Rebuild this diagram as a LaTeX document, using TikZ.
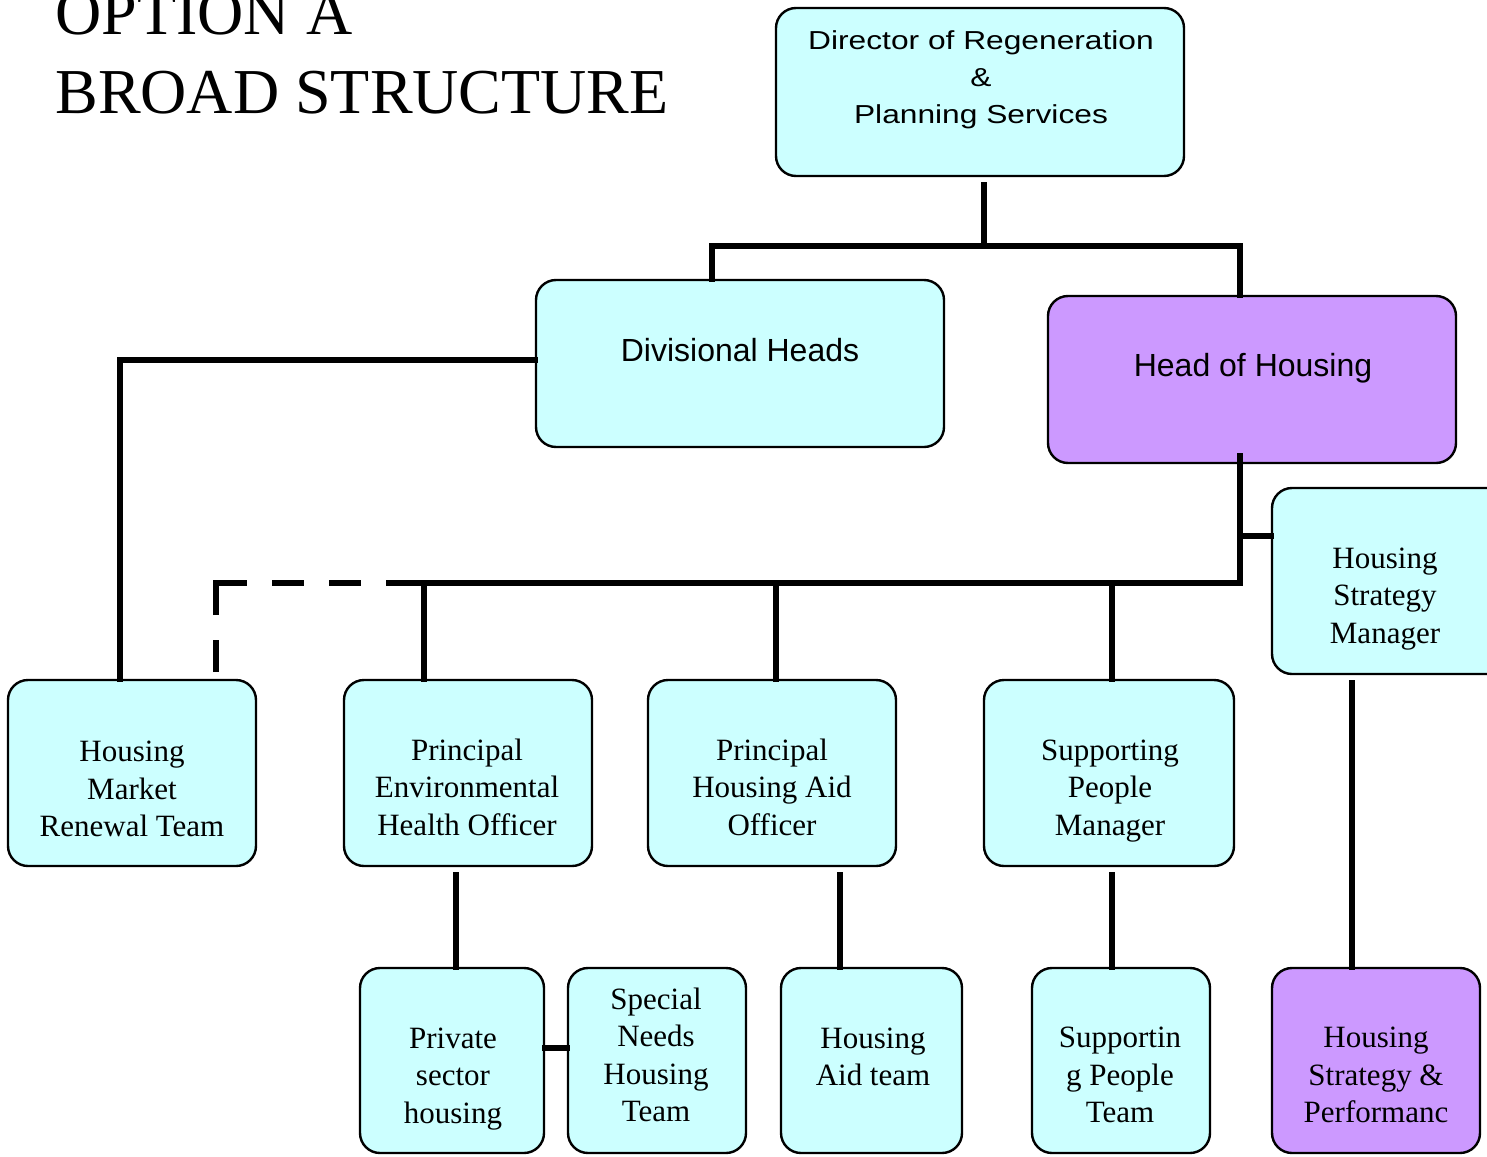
\documentclass[tikz,border=0pt]{standalone}
\usepackage{fontspec}
\setmainfont{Liberation Serif}
\newfontfamily\hsans{Liberation Sans}
\newfontfamily\wsans[FakeStretch=1.22]{Liberation Sans}
\usetikzlibrary{fit}
\definecolor{paleCyan}{HTML}{CCFFFF}
\definecolor{lilac}{HTML}{CC99FF}
\tikzset{
  box/.style={draw=black, line width=1.2pt, rounded corners=10pt, inner sep=0pt, fill=paleCyan},
  hbox/.style={box, fill=lilac},
  txt/.style={align=center, inner sep=0pt, font=\fontsize{15.5}{18.75}\selectfont},
  stxt/.style={align=center, inner sep=0pt, font=\hsans\fontsize{16}{18.5}\selectfont},
  link/.style={line width=3pt, line cap=rect},
  dotlink/.style={line width=3pt, dash pattern=on 16pt off 12.5pt on 31.5pt off 12.5pt on 16pt off 12.5pt on 16pt off 12.5pt on 30pt off 0pt}
}
\begin{document}
\begin{tikzpicture}[x=0.5pt,y=-0.5pt]
\useasboundingbox (0,0) rectangle (1487,1156);
\clip (0,0) rectangle (1487,1156);

% title
\node[anchor=base west, inner sep=0pt, font=\fontsize{32}{39}\selectfont] (t1) at (55,35) {OPTION A};
\node[anchor=base west, inner sep=0pt, font=\fontsize{32}{39}\selectfont] (t2) at (55,113) {BROAD STRUCTURE};

% top levels
\node[box, fit={(776,8) (1184,176)}] (dir) {};
\node[stxt, font=\wsans\fontsize{13}{18.5}\selectfont] (dirT) at (981,80) {Director of Regeneration\\\&\\Planning Services};
\node[box, fit={(536,280) (944,447)}] (div) {};
\node[stxt] (divT) at (740,350) {Divisional Heads};
\node[hbox, fit={(1048,296) (1456,463)}] (hoh) {};
\node[stxt] (hohT) at (1253,368) {Head of Housing};
\node[box, fit={(1272,488) (1510,674)}] (hsm) {};
\node[txt] (hsmT) at (1385,599) {Housing\\Strategy\\Manager};

% second row
\node[box, fit={(8,680) (256,866)}] (hmrt) {};
\node[txt] (hmrtT) at (132,789) {Housing\\Market\\Renewal Team};
\node[box, fit={(344,680) (592,866)}] (peho) {};
\node[txt] (pehoT) at (467,787) {Principal\\Environmental\\Health Officer};
\node[box, fit={(648,680) (896,866)}] (phao) {};
\node[txt] (phaoT) at (772,787) {Principal\\Housing Aid\\Officer};
\node[box, fit={(984,680) (1234,866)}] (spm) {};
\node[txt] (spmT) at (1110,791) {Supporting\\People\\Manager};

% third row
\node[box, fit={(360,968) (544,1153)}] (psh) {};
\node[txt] (pshT) at (453,1079) {Private\\sector\\housing};
\node[box, fit={(568,968) (746,1153)}] (snh) {};
\node[txt] (snhT) at (656,1055) {Special\\Needs\\Housing\\Team};
\node[box, fit={(781,968) (962,1153)}] (hat) {};
\node[txt] (hatT) at (873,1057) {Housing\\Aid team};
\node[box, fit={(1032,968) (1210,1153)}] (spt) {};
\node[txt] (sptT) at (1120,1075) {Supportin\\g People\\Team};
\node[hbox, fit={(1272,968) (1480,1153)}] (hsp) {};
\node[txt] (hspT) at (1376,1075) {Housing\\Strategy \&\\Performanc};

% bus coordinates
\coordinate (a0) at (984,246);
\coordinate (a1) at (712,246);
\coordinate (a2) at (1240,246);
\coordinate (b1) at (424,583);
\coordinate (b2) at (1240,583);
\coordinate (b3) at (776,583);
\coordinate (b4) at (1112,583);
\coordinate (bs) at (1240,536);
\coordinate (c0) at (120,360);
\coordinate (d0) at (216,583);
\coordinate (d1) at (216,672);
\coordinate (e1) at (456,0);
\coordinate (e2) at (840,0);
\coordinate (e3) at (1112,0);
\coordinate (e4) at (1352,0);
\coordinate (f0) at (0,1048);

% director to the two heads
\draw[link, shorten <=4pt] (dir.south -| a0) -- (a0);
\draw[link] (div.north -| a1) -- (a1) -- (a2) -- (hoh.north -| a2);

% head of housing to its teams
\draw[link] ([yshift=4pt]hoh.south -| b2) -- (b2) -- (b1) -- (peho.north -| b1);
\draw[link] (b3) -- (phao.north -| b3);
\draw[link] (b4) -- (spm.north -| b4);
\draw[link] (bs) -- (hsm.west |- bs);

% divisional heads to market renewal
\draw[link] (div.west |- c0) -- (c0) -- (hmrt.north -| c0);

% dotted reporting line
\draw[dotlink] (d1) -- (d0) -- (b1);

% lower links
\draw[link, shorten <=4pt] (peho.south -| e1) -- (psh.north -| e1);
\draw[link, shorten <=4pt] (phao.south -| e2) -- (hat.north -| e2);
\draw[link, shorten <=4pt] (spm.south -| e3) -- (spt.north -| e3);
\draw[link, shorten <=4pt] (hsm.south -| e4) -- (hsp.north -| e4);
\draw[link] (psh.east |- f0) -- (snh.west |- f0);
\end{tikzpicture}
\end{document}
